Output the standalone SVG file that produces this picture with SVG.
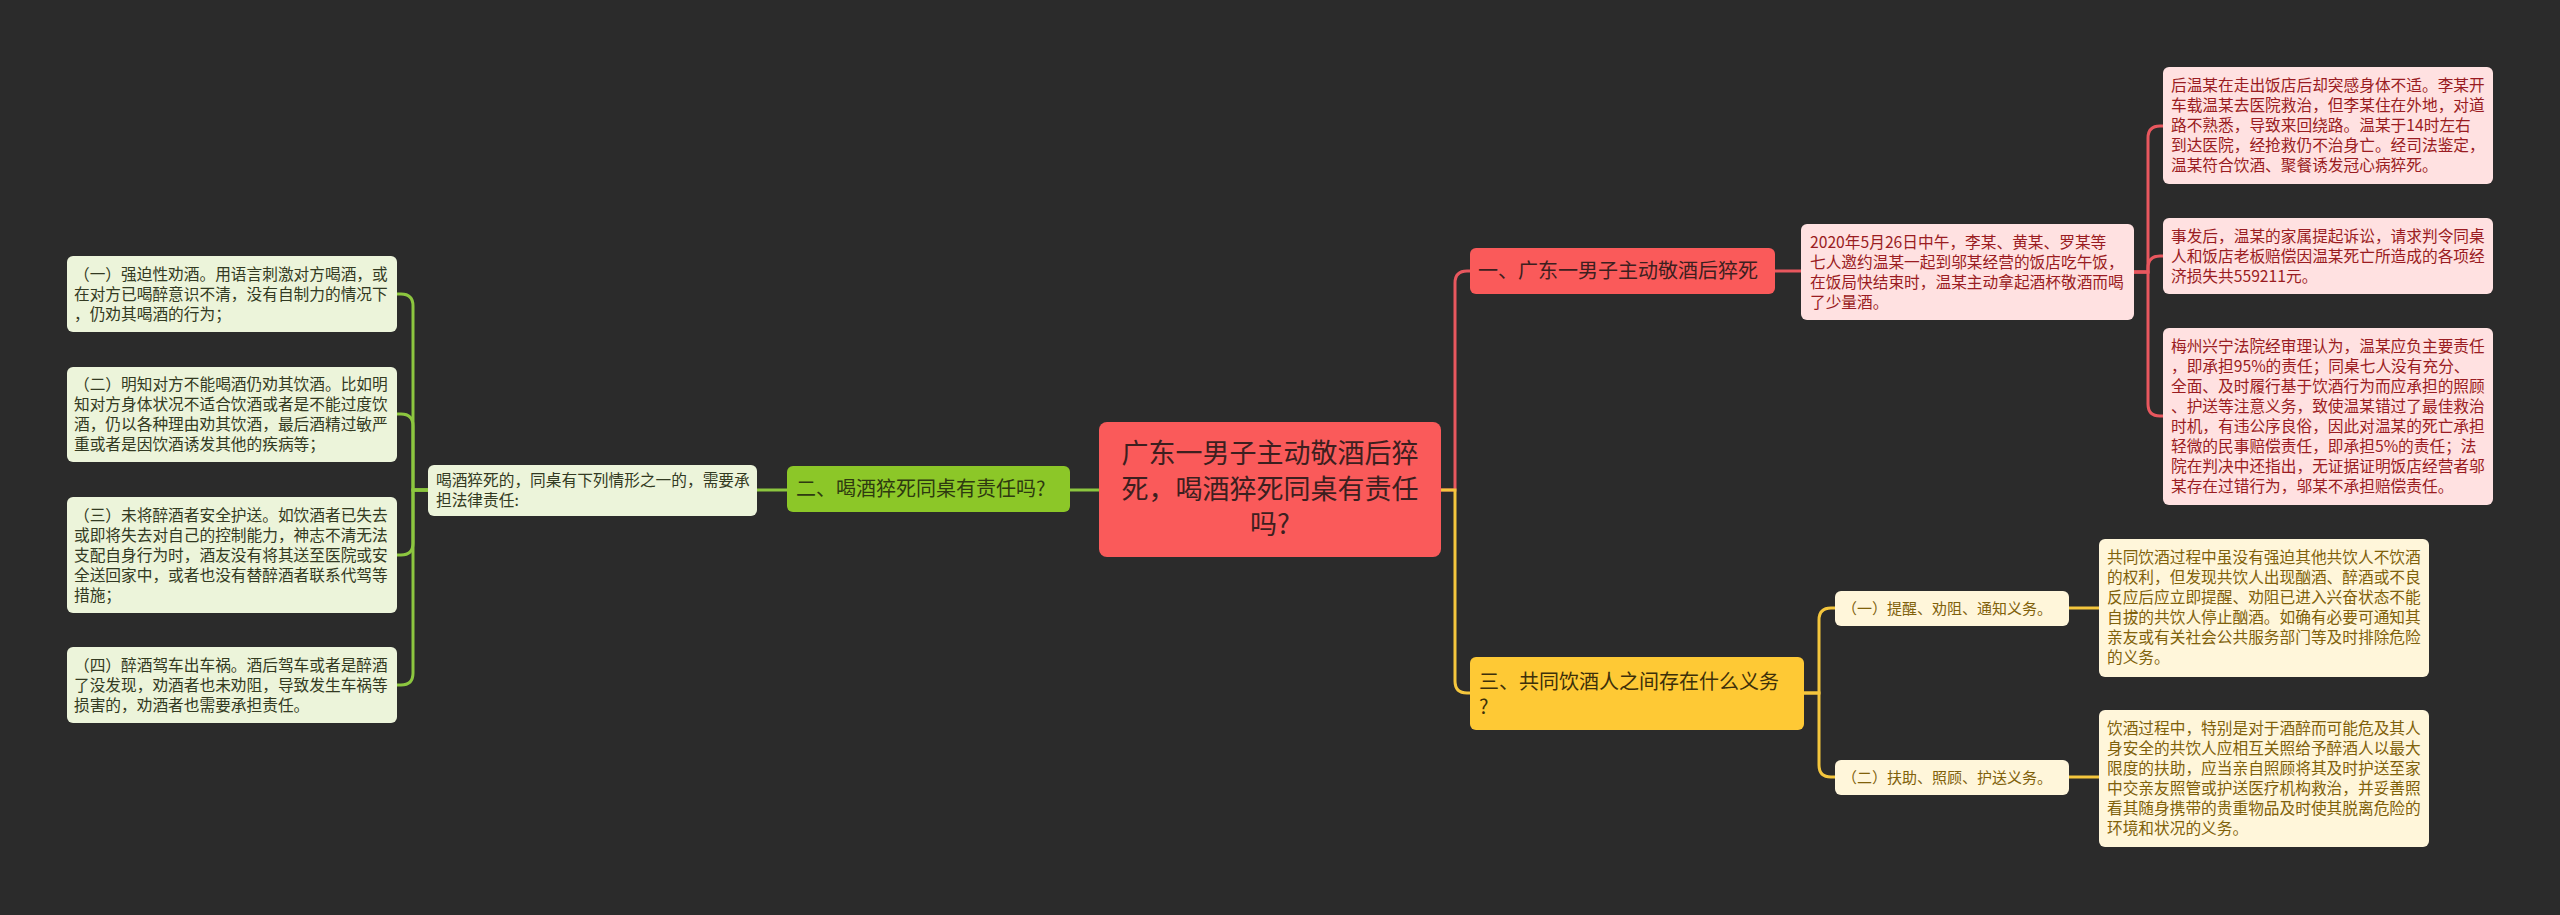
<svg xmlns="http://www.w3.org/2000/svg" width="2560" height="915" viewBox="0 0 2560 915">
<style>
text{font-family:"Noto Sans CJK SC","Noto Sans",sans-serif;}
.leaf{font-size:15.7px;}
.br{font-size:20px;}
.ctr{font-size:27px;fill:#3d1f1f;}
.rl{fill:#ffe1e1;}
.gl{fill:#ecf4da;}
.yl{fill:#fff6da;}
.rt{fill:#9a1c22;}
.gt{fill:#333a22;}
.yt{fill:#80610a;}
.cr{fill:none;stroke:#e8575e;stroke-width:3;}
.cg{fill:none;stroke:#8cc63f;stroke-width:3;}
.cy{fill:none;stroke:#f4c63d;stroke-width:3;}
</style>
<rect x="0" y="0" width="2560" height="915" fill="#2b2b2b"/>
<g id="connectors">
<path class="cg" d="M1099,490 H1070"/>
<path class="cg" d="M787,490 H757"/>
<path class="cg" d="M428,490 H413 V306 Q413,294 401,294 H397"/>
<path class="cg" d="M428,490 H413 V426 Q413,414 401,414 H397"/>
<path class="cg" d="M428,490 H413 V543 Q413,555 401,555 H397"/>
<path class="cg" d="M428,490 H413 V673 Q413,685 401,685 H397"/>
<path class="cr" d="M1441,490 H1455 V283 Q1455,271 1467,271 H1470"/>
<path class="cr" d="M1775,271 H1801"/>
<path class="cr" d="M2134,272 H2148 V138 Q2148,126 2160,126 H2163"/>
<path class="cr" d="M2134,272 H2148 V268 Q2148,256 2160,256 H2163"/>
<path class="cr" d="M2134,272 H2148 V404 Q2148,416 2160,416 H2163"/>
<path class="cy" d="M1441,490 H1455 V681 Q1455,693 1467,693 H1470"/>
<path class="cy" d="M1804,693 H1819 V620 Q1819,608 1831,608 H1835"/>
<path class="cy" d="M1804,693 H1819 V765 Q1819,777 1831,777 H1835"/>
<path class="cy" d="M2069,608 H2099"/>
<path class="cy" d="M2069,777 H2099"/>
</g>
<g id="center">
<rect x="1099" y="422" width="342" height="135" rx="8" fill="#fa5a5a"/>
<text class="ctr" x="1270" y="463" text-anchor="middle">广东一男子主动敬酒后猝</text>
<text class="ctr" x="1270" y="499" text-anchor="middle">死，喝酒猝死同桌有责任</text>
<text class="ctr" x="1270" y="534" text-anchor="middle">吗?</text>
</g>
<g id="branch1">
<rect x="1470" y="248" width="305" height="46" rx="6" fill="#fa5a5a"/>
<text class="br" x="1478" y="278" fill="#3d1f1f">一、广东一男子主动敬酒后猝死</text>
</g>
<g id="n2020">
<rect x="1801" y="224" width="333" height="96" rx="6" class="rl"/>
<text class="leaf rt" x="1810"><tspan x="1810" y="247.5">2020年5月26日中午，李某、黄某、罗某等</tspan><tspan x="1810" y="267.5">七人邀约温某一起到邬某经营的饭店吃午饭，</tspan><tspan x="1810" y="287.5">在饭局快结束时，温某主动拿起酒杯敬酒而喝</tspan><tspan x="1810" y="307.5">了少量酒。</tspan></text>
</g>
<g id="r1">
<rect x="2163" y="67" width="330" height="117" rx="6" class="rl"/>
<text class="leaf rt"><tspan x="2171" y="91">后温某在走出饭店后却突感身体不适。李某开</tspan><tspan x="2171" y="111">车载温某去医院救治，但李某住在外地，对道</tspan><tspan x="2171" y="131">路不熟悉，导致来回绕路。温某于14时左右</tspan><tspan x="2171" y="151">到达医院，经抢救仍不治身亡。经司法鉴定，</tspan><tspan x="2171" y="171">温某符合饮酒、聚餐诱发冠心病猝死。</tspan></text>
</g>
<g id="r2">
<rect x="2163" y="218" width="330" height="76" rx="6" class="rl"/>
<text class="leaf rt"><tspan x="2171" y="241.5">事发后，温某的家属提起诉讼，请求判令同桌</tspan><tspan x="2171" y="261.5">人和饭店老板赔偿因温某死亡所造成的各项经</tspan><tspan x="2171" y="281.5">济损失共559211元。</tspan></text>
</g>
<g id="r3">
<rect x="2163" y="328" width="330" height="177" rx="6" class="rl"/>
<text class="leaf rt"><tspan x="2171" y="352">梅州兴宁法院经审理认为，温某应负主要责任</tspan><tspan x="2171" y="372">，即承担95%的责任；同桌七人没有充分、</tspan><tspan x="2171" y="392">全面、及时履行基于饮酒行为而应承担的照顾</tspan><tspan x="2171" y="412">、护送等注意义务，致使温某错过了最佳救治</tspan><tspan x="2171" y="432">时机，有违公序良俗，因此对温某的死亡承担</tspan><tspan x="2171" y="452">轻微的民事赔偿责任，即承担5%的责任；法</tspan><tspan x="2171" y="472">院在判决中还指出，无证据证明饭店经营者邬</tspan><tspan x="2171" y="492">某存在过错行为，邬某不承担赔偿责任。</tspan></text>
</g>
<g id="branch2">
<rect x="787" y="466" width="283" height="46" rx="6" fill="#8cc728"/>
<text class="br" x="796" y="496" fill="#2e3a10">二、喝酒猝死同桌有责任吗?</text>
</g>
<g id="m2">
<rect x="428" y="465" width="329" height="51" rx="6" class="gl"/>
<text class="leaf gt"><tspan x="436" y="485.5">喝酒猝死的，同桌有下列情形之一的，需要承</tspan><tspan x="436" y="505.5">担法律责任:</tspan></text>
</g>
<g id="l1">
<rect x="67" y="256" width="330" height="76" rx="6" class="gl"/>
<text class="leaf gt"><tspan x="74" y="280">（一）强迫性劝酒。用语言刺激对方喝酒，或</tspan><tspan x="74" y="300">在对方已喝醉意识不清，没有自制力的情况下</tspan><tspan x="74" y="320">，仍劝其喝酒的行为；</tspan></text>
</g>
<g id="l2">
<rect x="67" y="367" width="330" height="95" rx="6" class="gl"/>
<text class="leaf gt"><tspan x="74" y="390">（二）明知对方不能喝酒仍劝其饮酒。比如明</tspan><tspan x="74" y="410">知对方身体状况不适合饮酒或者是不能过度饮</tspan><tspan x="74" y="430">酒，仍以各种理由劝其饮酒，最后酒精过敏严</tspan><tspan x="74" y="450">重或者是因饮酒诱发其他的疾病等；</tspan></text>
</g>
<g id="l3">
<rect x="67" y="497" width="330" height="116" rx="6" class="gl"/>
<text class="leaf gt"><tspan x="74" y="521">（三）未将醉酒者安全护送。如饮酒者已失去</tspan><tspan x="74" y="541">或即将失去对自己的控制能力，神志不清无法</tspan><tspan x="74" y="561">支配自身行为时，酒友没有将其送至医院或安</tspan><tspan x="74" y="581">全送回家中，或者也没有替醉酒者联系代驾等</tspan><tspan x="74" y="601">措施；</tspan></text>
</g>
<g id="l4">
<rect x="67" y="647" width="330" height="76" rx="6" class="gl"/>
<text class="leaf gt"><tspan x="74" y="671">（四）醉酒驾车出车祸。酒后驾车或者是醉酒</tspan><tspan x="74" y="691">了没发现，劝酒者也未劝阻，导致发生车祸等</tspan><tspan x="74" y="711">损害的，劝酒者也需要承担责任。</tspan></text>
</g>
<g id="branch3">
<rect x="1470" y="657" width="334" height="73" rx="6" fill="#fec935"/>
<text class="br" fill="#3d300a"><tspan x="1479" y="689">三、共同饮酒人之间存在什么义务</tspan><tspan x="1479" y="714">?</tspan></text>
</g>
<g id="s1">
<rect x="1835" y="591" width="234" height="35" rx="6" class="yl"/>
<text class="yt" x="1842" y="613.5" style="font-size:15px">（一）提醒、劝阻、通知义务。</text>
</g>
<g id="s2">
<rect x="1835" y="760" width="234" height="35" rx="6" class="yl"/>
<text class="yt" x="1842" y="783" style="font-size:15px">（二）扶助、照顾、护送义务。</text>
</g>
<g id="y1">
<rect x="2099" y="539" width="330" height="138" rx="6" class="yl"/>
<text class="leaf yt"><tspan x="2107" y="563">共同饮酒过程中虽没有强迫其他共饮人不饮酒</tspan><tspan x="2107" y="583">的权利，但发现共饮人出现酗酒、醉酒或不良</tspan><tspan x="2107" y="603">反应后应立即提醒、劝阻已进入兴奋状态不能</tspan><tspan x="2107" y="623">自拔的共饮人停止酗酒。如确有必要可通知其</tspan><tspan x="2107" y="643">亲友或有关社会公共服务部门等及时排除危险</tspan><tspan x="2107" y="663">的义务。</tspan></text>
</g>
<g id="y2">
<rect x="2099" y="710" width="330" height="137" rx="6" class="yl"/>
<text class="leaf yt"><tspan x="2107" y="734">饮酒过程中，特别是对于酒醉而可能危及其人</tspan><tspan x="2107" y="754">身安全的共饮人应相互关照给予醉酒人以最大</tspan><tspan x="2107" y="774">限度的扶助，应当亲自照顾将其及时护送至家</tspan><tspan x="2107" y="794">中交亲友照管或护送医疗机构救治，并妥善照</tspan><tspan x="2107" y="814">看其随身携带的贵重物品及时使其脱离危险的</tspan><tspan x="2107" y="834">环境和状况的义务。</tspan></text>
</g>
</svg>
